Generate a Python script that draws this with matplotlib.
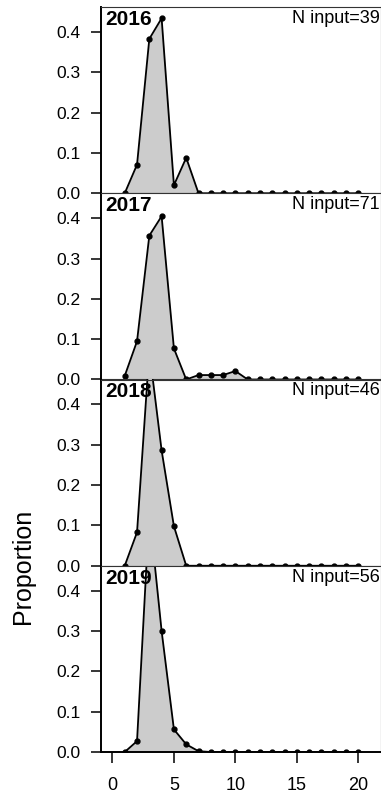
import matplotlib
matplotlib.use("Agg")
import matplotlib.pyplot as plt
import numpy as np

plt.rcParams['font.family'] = ['Liberation Sans', 'DejaVu Sans']

ages = list(range(1, 21))
years = ["2016", "2017", "2018", "2019"]
n_input = [39, 71, 46, 56]
prop_2016 = [0.0, 0.071, 0.383, 0.434, 0.020, 0.088] + [0.0] * 14
prop_2017 = [0.009, 0.095, 0.357, 0.405, 0.077, 0.0, 0.011, 0.011, 0.011, 0.021] + [0.0] * 10
prop_2018 = [0.0, 0.083, 0.533, 0.286, 0.098] + [0.0] * 15
prop_2019 = [0.0, 0.027, 0.596, 0.300, 0.056, 0.019, 0.002] + [0.0] * 13
props = [prop_2016, prop_2017, prop_2018, prop_2019]

yticks = [0.0, 0.1, 0.2, 0.3, 0.4]
xticks = [0, 5, 10, 15, 20]

W, H = 381, 799
fig = plt.figure(figsize=(W / 100, H / 100), dpi=100)

left = 101 / W
right = 380.5 / W
top_px = 7
bot_px = 752
ph = (bot_px - top_px) / 4

box_col = '#333333'
for i, (yr, n, p) in enumerate(zip(years, n_input, props)):
    y0 = 1 - (top_px + (i + 1) * ph) / H
    ax = fig.add_axes([left, y0, right - left, ph / H])
    ax.fill_between(ages, p, 0, color='#cccccc', lw=0)
    ax.plot(ages, p, color='black', lw=1.3, marker='o', ms=3.5, clip_on=True)
    ax.set_xlim(-0.93, 21.8)
    ax.set_ylim(0, 0.462)
    ax.set_yticks(yticks)
    ax.set_yticklabels([f"{v:.1f}" for v in yticks], fontsize=12.5)
    ax.tick_params(axis='y', length=7.5, width=1.1, pad=7, colors='black')
    for s in ['top', 'right', 'bottom']:
        ax.spines[s].set_color(box_col)
        ax.spines[s].set_linewidth(0.8)
    ax.spines['left'].set_linewidth(1.4)
    ax.spines['left'].set_color('black')
    if i == 3:
        ax.set_xticks(xticks)
        ax.set_xticklabels([str(v) for v in xticks], fontsize=13)
        ax.tick_params(axis='x', length=8, width=1.1, pad=10)
        ax.spines['bottom'].set_color('black')
        ax.spines['bottom'].set_linewidth(1.4)
    else:
        ax.set_xticks([])
    ax.text(0.016, 0.985, yr, transform=ax.transAxes, ha='left', va='top',
            fontsize=15, fontweight='bold', zorder=5)
    ax.text(0.998, 0.985, f"N input={n}", transform=ax.transAxes, ha='right', va='top',
            fontsize=13, zorder=5)

fig.text(23 / W, 1 - 566 / H, "Proportion", rotation=90, ha='center', va='center', fontsize=18)

fig.savefig("out.png", dpi=100)
